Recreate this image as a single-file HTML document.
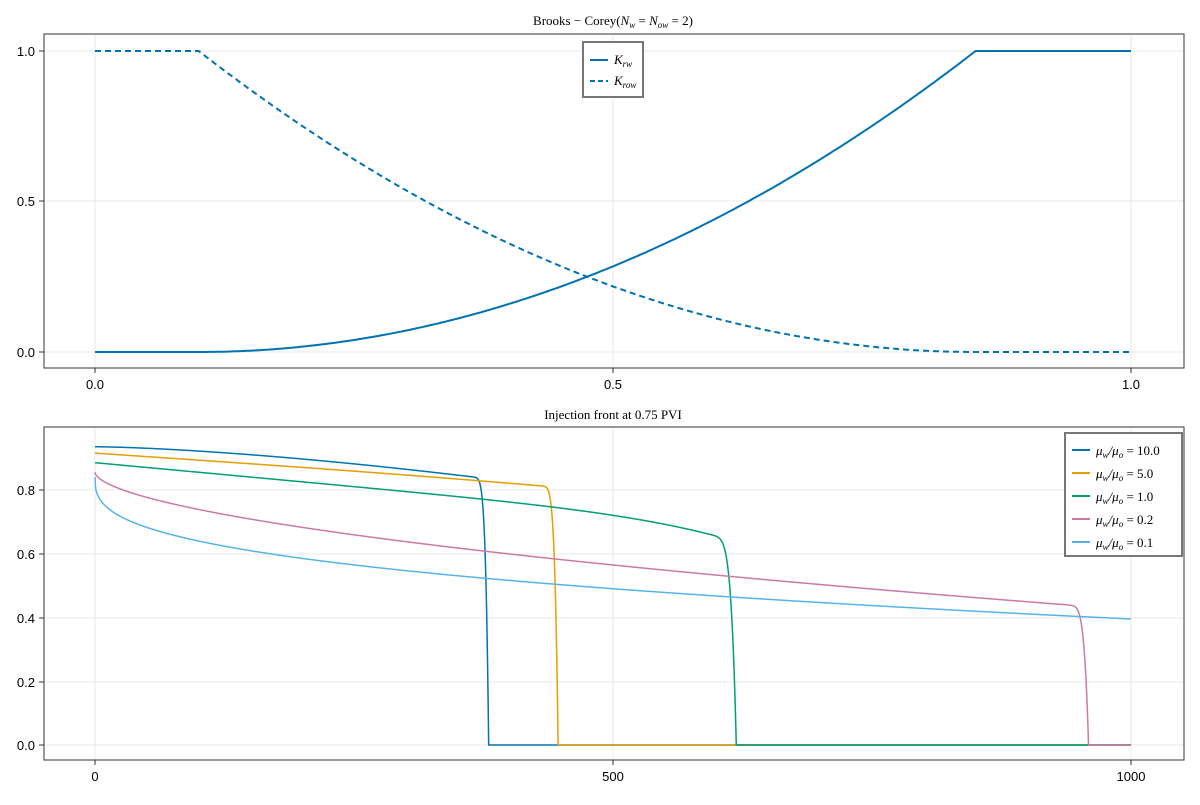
<!DOCTYPE html>
<html><head><meta charset="utf-8"><style>
body{margin:0;background:#fff}
text{font-family:"Liberation Sans",sans-serif;font-size:13px;fill:#000}
.t{font-family:"Liberation Serif",serif;font-size:13px}
.m{font-family:"Liberation Serif",serif;font-style:italic;font-size:13px}
</style></head><body>
<svg id="s" width="1200" height="800" xmlns="http://www.w3.org/2000/svg">
<rect width="1200" height="800" fill="#fff"/>
<g stroke="#e8e8e8" stroke-width="1">
<line x1="95" y1="34" x2="95" y2="368"/><line x1="613" y1="34" x2="613" y2="368"/><line x1="1131" y1="34" x2="1131" y2="368"/>
<line x1="44" y1="51" x2="1184" y2="51"/><line x1="44" y1="201" x2="1184" y2="201"/><line x1="44" y1="352" x2="1184" y2="352"/>
<line x1="95" y1="427" x2="95" y2="760"/><line x1="613" y1="427" x2="613" y2="760"/><line x1="1131" y1="427" x2="1131" y2="760"/>
<line x1="44" y1="745" x2="1184" y2="745"/><line x1="44" y1="682" x2="1184" y2="682"/><line x1="44" y1="618" x2="1184" y2="618"/><line x1="44" y1="554" x2="1184" y2="554"/><line x1="44" y1="490" x2="1184" y2="490"/>
</g>
<rect x="44" y="34" width="1140" height="334" fill="none" stroke="#555" stroke-width="1.2"/>
<rect x="44" y="427" width="1140" height="333" fill="none" stroke="#555" stroke-width="1.2"/>
<g stroke="#333"><line x1="95" y1="368" x2="95" y2="373"/><line x1="613" y1="368" x2="613" y2="373"/><line x1="1131" y1="368" x2="1131" y2="373"/>
<line x1="95" y1="760" x2="95" y2="765"/><line x1="613" y1="760" x2="613" y2="765"/><line x1="1131" y1="760" x2="1131" y2="765"/>
<line x1="39" y1="51" x2="44" y2="51"/><line x1="39" y1="201" x2="44" y2="201"/><line x1="39" y1="352" x2="44" y2="352"/>
<line x1="39" y1="745" x2="44" y2="745"/><line x1="39" y1="682" x2="44" y2="682"/><line x1="39" y1="618" x2="44" y2="618"/><line x1="39" y1="554" x2="44" y2="554"/><line x1="39" y1="490" x2="44" y2="490"/></g>
<g text-anchor="middle"><text x="95" y="389">0.0</text><text x="613" y="389">0.5</text><text x="1131" y="389">1.0</text>
<text x="95" y="781">0</text><text x="613" y="781">500</text><text x="1131" y="781">1000</text></g>
<g text-anchor="end"><text x="35" y="56">1.0</text><text x="35" y="206">0.5</text><text x="35" y="357">0.0</text>
<text x="35" y="750">0.0</text><text x="35" y="687">0.2</text><text x="35" y="623">0.4</text><text x="35" y="559">0.6</text><text x="35" y="495">0.8</text></g>
<text class="t" x="613" y="25" text-anchor="middle">Brooks − Corey(<tspan font-style="italic">N<tspan font-size="9" dy="3">w</tspan></tspan><tspan dy="-3"> = </tspan><tspan font-style="italic">N<tspan font-size="9" dy="3">ow</tspan></tspan><tspan dy="-3"> = 2)</tspan></text>
<text class="t" x="613" y="419" text-anchor="middle">Injection front at 0.75 PVI</text>
<g id="top" fill="none" stroke="#0072b2" stroke-width="2"></g>
<g id="bot" fill="none" stroke-width="1.5"></g>
<rect x="583" y="42" width="60" height="55" fill="#fff" stroke="#777" stroke-width="2"/>
<line x1="590" y1="60" x2="608" y2="60" stroke="#0072b2" stroke-width="2"/>
<line x1="590" y1="81" x2="608" y2="81" stroke="#0072b2" stroke-width="2" stroke-dasharray="5,3"/>
<text class="m" x="614" y="64">K<tspan font-size="9" dy="3">rw</tspan></text>
<text class="m" x="614" y="85">K<tspan font-size="9" dy="3">row</tspan></text>
<rect x="1065" y="433" width="117" height="123" fill="#fff" stroke="#777" stroke-width="2"/>
<g id="leg"></g>
</svg>
<script>
var NS='http://www.w3.org/2000/svg';
function P(g,d,attrs){var p=document.createElementNS(NS,'path');p.setAttribute('d',d);for(var k in attrs)p.setAttribute(k,attrs[k]);document.getElementById(g).appendChild(p);}
var a='',b='';
for(var i=0;i<=400;i++){var t=i/400,x=95+t*1036;
var kw=t<0.1?0:t>0.85?1:Math.pow((t-0.1)/0.75,2);
var ko=t<0.1?1:t>0.85?0:Math.pow((0.85-t)/0.75,2);
a+=(i?'L':'M')+x.toFixed(1)+','+(352-kw*301).toFixed(1);
b+=(i?'L':'M')+x.toFixed(1)+','+(352-ko*301).toFixed(1);}
P('top',a,{});P('top',b,{'stroke-dasharray':'6,4'});
function mk(pre,t0,tf,n){return function(t){var v=pre(t);if(t0==null||t<t0)return v;if(t>=tf)return 0;return v*(1-Math.pow((t-t0)/(tf-t0),n));};}
var C=[['#0072b2',mk(function(t){return 0.935-0.43*Math.pow(t,1.5)},0.362,0.380,6),'10.0'],
['#e69f00',mk(function(t){return 0.915-0.22*t-0.1*t*t*t},0.428,0.447,6),'5.0'],
['#009e73',mk(function(t){return 0.885-0.3*t-1.46*Math.pow(t,6.6)},0.59,0.619,6),'1.0'],
['#cc79a7',mk(function(t){return 0.855-0.431*Math.pow(t,0.568)},0.935,0.959,6),'0.2'],
['#56b4e9',mk(function(t){return 0.84-0.445*Math.pow(t,0.346)},null,null,1),'0.1']];
var leg='';
C.forEach(function(c,i){var d='';for(var j=0;j<=2000;j++){var t=j/2000;d+=(j?'L':'M')+(95+t*1036).toFixed(2)+','+(745-c[1](t)*319).toFixed(2);}
P('bot',d,{stroke:c[0]});
var y=450+i*23;
leg+='<line x1="1072" y1="'+y+'" x2="1090" y2="'+y+'" stroke="'+c[0]+'" stroke-width="2"/><text class="m" x="1096" y="'+(y+5)+'">μ<tspan font-size="9" dy="3">w</tspan><tspan dy="-3">/μ</tspan><tspan font-size="9" dy="3">o</tspan><tspan dy="-3" font-style="normal"> = '+c[2]+'</tspan></text>';});
document.getElementById('leg').innerHTML=leg;
</script>
</body></html>
